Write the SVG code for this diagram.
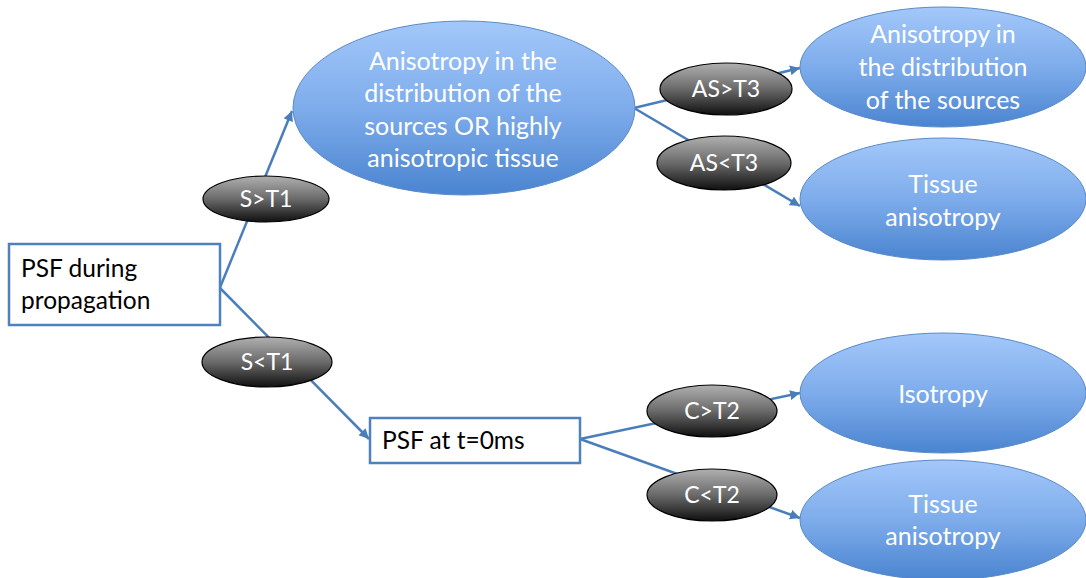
<svg xmlns="http://www.w3.org/2000/svg" width="1086" height="578" viewBox="0 0 1086 578">
<style>
.conn{stroke:#4a7ebb;stroke-width:2.5;fill:none}
.box{fill:#fff;stroke:#4f81bd;stroke-width:2.5}
.blue{fill:url(#gBlue);stroke:#5a8ac6;stroke-width:1}
.dark{fill:url(#gDark);stroke:#000;stroke-width:1.2}
.t{font-family:Lato,"Open Sans","Liberation Sans",sans-serif}
.w{fill:#fff;text-anchor:middle;font-size:25px}
.k{fill:#000;font-size:24.5px}
.lbl{font-family:Lato,"Open Sans","Liberation Sans",sans-serif;font-size:23px;fill:#fff;text-anchor:middle}
</style>
<defs>
<linearGradient id="gBlue" x1="0" y1="0" x2="0" y2="1">
<stop offset="0" stop-color="#a3c8fa"/>
<stop offset="0.5" stop-color="#7eaceb"/>
<stop offset="1" stop-color="#4a84d0"/>
</linearGradient>
<linearGradient id="gDark" x1="0" y1="0" x2="0" y2="1">
<stop offset="0" stop-color="#b0b0b0"/>
<stop offset="0.5" stop-color="#6a6a6a"/>
<stop offset="1" stop-color="#101010"/>
</linearGradient>
<marker id="arr" markerUnits="userSpaceOnUse" markerWidth="12" markerHeight="10" refX="10" refY="5" orient="auto">
<path d="M0,0 L10,5 L0,10 z" fill="#4a7ebb"/>
</marker>
</defs>
<rect width="1086" height="578" fill="#fff"/>
<g id="connectors">
<line class="conn" x1="219" y1="290" x2="292" y2="111" marker-end="url(#arr)"/>
<line class="conn" x1="219" y1="287" x2="369" y2="439" marker-end="url(#arr)"/>
<line class="conn" x1="634" y1="108" x2="800" y2="68" marker-end="url(#arr)"/>
<line class="conn" x1="634" y1="108" x2="800" y2="206" marker-end="url(#arr)"/>
<line class="conn" x1="580" y1="439" x2="800" y2="393" marker-end="url(#arr)"/>
<line class="conn" x1="580" y1="439" x2="800" y2="518" marker-end="url(#arr)"/>
</g>
<g id="n-psf-prop">
<rect class="box" x="9" y="244" width="211" height="81"/>
<text class="t k" x="21" y="277">PSF during</text>
<text class="t k" x="21" y="309">propagation</text>
</g>
<g id="n-s-gt-t1">
<ellipse class="dark" cx="266" cy="199" rx="63" ry="23"/>
<text class="lbl" x="266" y="207">S&gt;T1</text>
</g>
<g id="n-s-lt-t1">
<ellipse class="dark" cx="267" cy="362" rx="65" ry="25"/>
<text class="lbl" x="267" y="370">S&lt;T1</text>
</g>
<g id="n-aniso-big">
<ellipse class="blue" cx="464" cy="108" rx="171" ry="87"/>
<text class="t w" x="463" y="70">Anisotropy in the</text>
<text class="t w" x="463" y="102">distribution of the</text>
<text class="t w" x="463" y="135">sources OR highly</text>
<text class="t w" x="463" y="167">anisotropic tissue</text>
</g>
<g id="n-as-gt-t3">
<ellipse class="dark" cx="726" cy="89" rx="66" ry="26"/>
<text class="lbl" x="726" y="97">AS&gt;T3</text>
</g>
<g id="n-as-lt-t3">
<ellipse class="dark" cx="724" cy="163" rx="67" ry="27"/>
<text class="lbl" x="724" y="171">AS&lt;T3</text>
</g>
<g id="n-aniso-sources">
<ellipse class="blue" cx="943" cy="67" rx="143" ry="60"/>
<text class="t w" x="943" y="43">Anisotropy in</text>
<text class="t w" x="943" y="76">the distribution</text>
<text class="t w" x="943" y="109">of the sources</text>
</g>
<g id="n-tissue-1">
<ellipse class="blue" cx="943" cy="199" rx="143" ry="61"/>
<text class="t w" x="943" y="193">Tissue</text>
<text class="t w" x="943" y="226">anisotropy</text>
</g>
<g id="n-psf-t0">
<rect class="box" x="370" y="418" width="210" height="45"/>
<text class="t k" x="382" y="449">PSF at t=0ms</text>
</g>
<g id="n-c-gt-t2">
<ellipse class="dark" cx="712" cy="411" rx="65" ry="26"/>
<text class="lbl" x="712" y="419">C&gt;T2</text>
</g>
<g id="n-c-lt-t2">
<ellipse class="dark" cx="712" cy="495" rx="65" ry="26"/>
<text class="lbl" x="712" y="503">C&lt;T2</text>
</g>
<g id="n-isotropy">
<ellipse class="blue" cx="943" cy="393" rx="143" ry="60"/>
<text class="t w" x="943" y="403">Isotropy</text>
</g>
<g id="n-tissue-2">
<ellipse class="blue" cx="943" cy="520" rx="143" ry="60"/>
<text class="t w" x="943" y="513">Tissue</text>
<text class="t w" x="943" y="545">anisotropy</text>
</g>
</svg>
